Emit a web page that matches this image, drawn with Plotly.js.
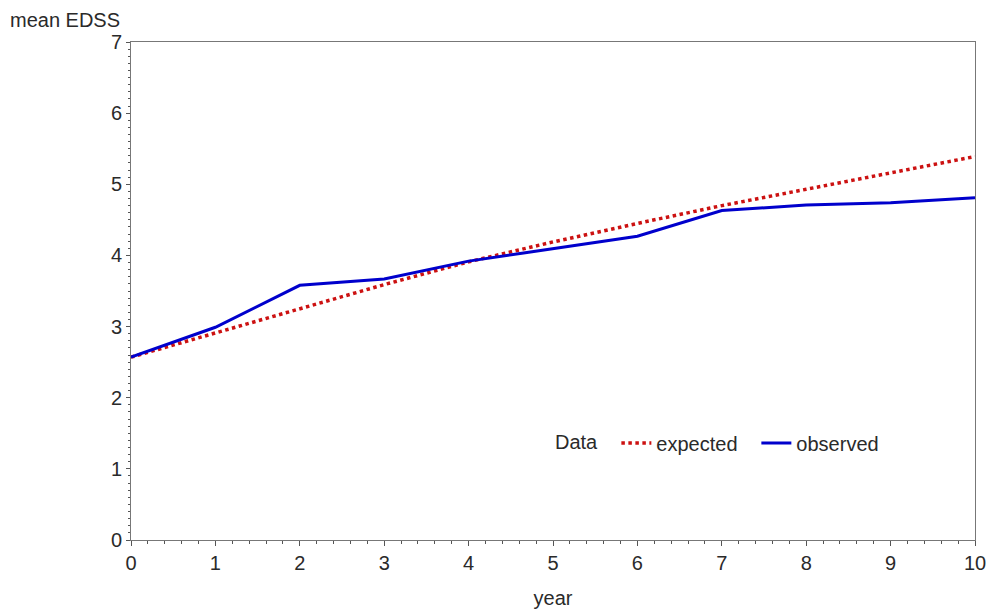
<!DOCTYPE html>
<html>
<head>
<meta charset="utf-8">
<script src="https://cdn.plot.ly/plotly-3.0.1.min.js"></script>
<style>html,body{margin:0;padding:0;background:#fff;}#chart{width:987px;height:609px;}</style>
</head>
<body>
<div id="chart"></div>
<script>
const years = [0, 1, 2, 3, 4, 5, 6, 7, 8, 9, 10];
const expected = [2.57, 2.91, 3.26, 3.59, 3.91, 4.19, 4.45, 4.70, 4.93, 5.16, 5.39];
const observed = [2.57, 2.99, 3.58, 3.67, 3.92, 4.10, 4.27, 4.63, 4.71, 4.74, 4.81];
const xTicks = [0, 1, 2, 3, 4, 5, 6, 7, 8, 9, 10];
const yTicks = [0, 1, 2, 3, 4, 5, 6, 7];

const fontFam = 'Liberation Sans, Arial, sans-serif';
const txt = '#2a2a2a';

const traces = [
  {x: years, y: expected, mode: 'lines', name: 'expected',
   line: {color: '#CC1111', width: 3.5, dash: 'dot'}},
  {x: years, y: observed, mode: 'lines', name: 'observed',
   line: {color: '#0000CC', width: 3}}
];

const layout = {
  width: 987, height: 609,
  margin: {l: 131, r: 12, t: 42, b: 69},
  paper_bgcolor: '#fff', plot_bgcolor: '#fff',
  font: {family: fontFam, size: 20, color: txt},
  showlegend: true,
  legend: {orientation: 'h', x: 0.5, y: 0.195, xanchor: 'left', yanchor: 'middle',
           title: {text: 'Data\u00A0\u00A0', side: 'left', font: {size: 20, color: txt}},
           font: {size: 20, color: txt}, bgcolor: 'rgba(0,0,0,0)', itemwidth: 30,
           entrywidth: 95},
  xaxis: {range: [0, 10], tickvals: xTicks, ticks: 'outside', ticklen: 5, tickwidth: 1,
          tickcolor: '#555', showline: true, linecolor: '#777', linewidth: 1, mirror: true,
          showgrid: false, zeroline: false, ticklabeloverflow: 'allow',
          minor: {dtick: 0.2, ticks: 'outside', ticklen: 3, tickcolor: '#555', showgrid: false},
          title: {text: 'year', standoff: 18, font: {size: 20, color: txt}},
          tickfont: {size: 20, color: txt}},
  yaxis: {range: [0, 7], tickvals: yTicks, ticks: 'outside', ticklen: 4, tickwidth: 1,
          tickcolor: '#555', showline: true, linecolor: '#777', linewidth: 1, mirror: true,
          showgrid: false, zeroline: false,
          minor: {dtick: 0.1, ticks: 'outside', ticklen: 2, tickcolor: '#555', showgrid: false},
          tickfont: {size: 20, color: txt}},
  annotations: [
    {text: 'mean EDSS', xref: 'paper', yref: 'paper', x: -123/844, y: 1 + 22/498,
     xanchor: 'left', yanchor: 'middle', showarrow: false, font: {size: 20, color: txt}}
  ]
};

Plotly.newPlot('chart', traces, layout, {displayModeBar: false});
</script>
</body>
</html>
